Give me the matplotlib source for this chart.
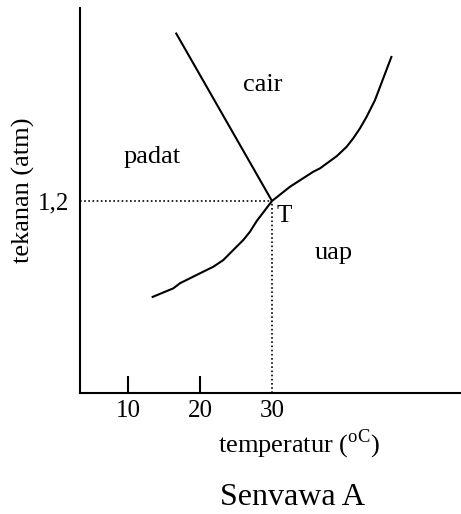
import numpy as np
import matplotlib.pyplot as plt

plt.rcParams['font.family'] = ['Liberation Serif', 'DejaVu Serif']
plt.rcParams['mathtext.fontset'] = 'custom'
plt.rcParams['mathtext.rm'] = 'Liberation Serif'

# titik tripel
t_triple = 30
p_triple = 1.2

# kurva sublimasi (padat - uap)
sub_t = [13.29, 16.29, 17.22, 20.0, 21.85, 23.24, 24.63, 26.01, 26.94, 27.88, 30.0]
sub_p = [0.598, 0.654, 0.686, 0.748, 0.789, 0.831, 0.894, 0.956, 1.008, 1.075, 1.2]

# kurva penguapan (cair - uap)
vap_t = [30.0, 32.5, 35.74, 36.67, 38.99, 40.37, 41.29, 42.22, 43.15, 44.31, 46.63]
vap_p = [1.2, 1.289, 1.383, 1.404, 1.48, 1.539, 1.592, 1.654, 1.727, 1.831, 2.106]

# kurva leleh (padat - cair)
fus_t = [16.63, 30.0]
fus_p = [2.252, 1.2]

xticks = [10, 20, 30]
xtick_labels = ['10', '20', '30']

fig = plt.figure(figsize=(4.61, 5.14), dpi=100)
ax = fig.add_axes([80/461, 1 - 393/514, 1 - 80/461, (393 - 8)/514])

lw = 1.5
for xs, ys in [(sub_t, sub_p), (vap_t, vap_p), (fus_t, fus_p)]:
    ax.plot(xs, ys, color='black', linewidth=lw, solid_joinstyle='round',
            solid_capstyle='butt')

# garis titik-titik ke sumbu
ax.plot([3.34, t_triple], [p_triple, p_triple], color='black', linewidth=1.2,
        linestyle=(0, (1, 1.5)))
ax.plot([t_triple, t_triple], [0, p_triple], color='black', linewidth=1.2,
        linestyle=(0, (1, 1.5)))

ax.set_xlim(3.333, 56.25)
ax.set_ylim(0, 2.406)

for s in ['top', 'right']:
    ax.spines[s].set_visible(False)
for s in ['left', 'bottom']:
    ax.spines[s].set_linewidth(lw)

ax.set_xticks(xticks)
ax.set_xticklabels(xtick_labels, fontsize=18)
ax.tick_params(axis='x', direction='in', length=12, width=lw, pad=5)
ax.xaxis.get_major_ticks()[2].tick1line.set_visible(False)

ax.set_yticks([p_triple])
ax.set_yticklabels(['1,2'], fontsize=18)
ax.tick_params(axis='y', length=0, pad=8)

ax.text(28.68, 1.8875, 'cair', fontsize=19, ha='center', va='baseline')
ax.text(13.29, 1.4375, 'padat', fontsize=19, ha='center', va='baseline')
ax.text(31.74, 1.069, 'T', fontsize=18, ha='center', va='baseline')
ax.text(38.6, 0.84, 'uap', fontsize=19, ha='center', va='baseline')

fig.text(299/461, 1 - 452/514, r'temperatur ($^{\mathrm{oC}}$)', fontsize=19,
         ha='center', va='baseline')
fig.text(23/461, 1 - 190/514, 'tekanan (atm)', fontsize=19, rotation=90,
         ha='center', va='center')
fig.text(292/461, 1 - 505/514, 'Senvawa A', fontsize=23, ha='center',
         va='baseline')

fig.savefig('out.png', dpi=100)
